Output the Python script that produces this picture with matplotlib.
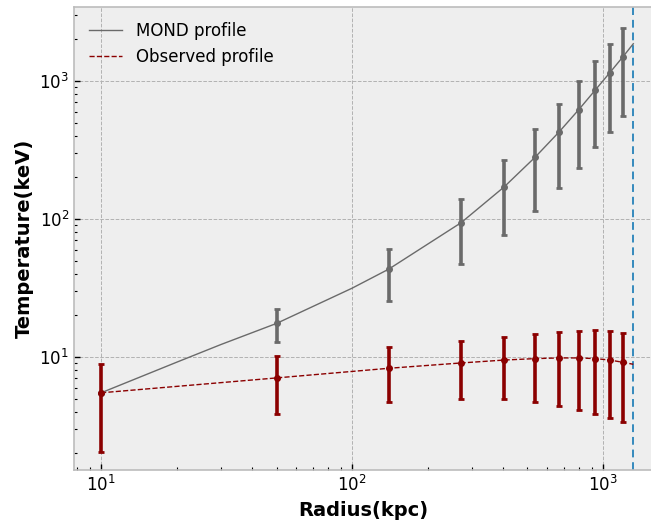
import matplotlib
matplotlib.use("Agg")
import matplotlib.pyplot as plt
from matplotlib.ticker import LogLocator, NullFormatter

plt.style.use("bmh")

# Data
radius = [10, 50, 140, 272, 404, 536, 668, 800, 932, 1064, 1196]
mond_T = [5.5, 17.5, 43.3, 94, 171, 280, 427, 619, 861, 1148, 1485]
mond_err = [0, 4.7, 17.7, 46.5, 95, 165, 258, 385, 530, 720, 930]
obs_T = [5.5, 7.05, 8.28, 9.05, 9.5, 9.73, 9.84, 9.84, 9.73, 9.5, 9.16]
obs_err = [3.45, 3.17, 3.55, 4.1, 4.5, 5.0, 5.4, 5.7, 5.9, 5.9, 5.8]

mond_curve_r = [10, 20, 30, 50, 100, 140, 272, 404, 536, 668, 800, 932, 1064, 1196, 1320]
mond_curve_T = [5.5, 9.16, 12.3, 17.5, 31.5, 43.3, 94, 171, 280, 427, 619, 861, 1148, 1485, 1860]
obs_curve_r = [10, 50, 140, 272, 404, 536, 668, 800, 932, 1064, 1196, 1320]
obs_curve_T = [5.5, 7.05, 8.28, 9.05, 9.5, 9.73, 9.84, 9.84, 9.73, 9.5, 9.16, 8.85]
r_limit = 1320

grey = "#6a6a6a"
red = "#8b0000"

fig = plt.figure(figsize=(6.51, 5.27), dpi=100)
fig.patch.set_facecolor("white")
ax = fig.add_axes([74/651, 57/527, 578/651, 463/527])
ax.set_facecolor("#eeeeee")

ax.plot(mond_curve_r, mond_curve_T, color=grey, lw=1.0, label="MOND profile", zorder=3)
ax.plot(obs_curve_r, obs_curve_T, color=red, lw=1.0, ls="--", label="Observed profile", zorder=3)

ax.errorbar(radius, mond_T, yerr=mond_err, fmt="o", color=grey, ms=4,
            elinewidth=2.6, capsize=2.5, capthick=2, zorder=4)
ax.errorbar(radius, obs_T, yerr=obs_err, fmt="o", color=red, ms=4,
            elinewidth=2.6, capsize=2.5, capthick=2, zorder=5)

ax.axvline(r_limit, color="#348ABD", ls=(0, (4, 2.5)), lw=1.4, zorder=2)

ax.set_xscale("log")
ax.set_yscale("log")
ax.set_xlim(7.8, 1567)
ax.set_ylim(1.517, 3435)

ax.xaxis.set_minor_locator(LogLocator(base=10, subs=range(2, 10), numticks=20))
ax.yaxis.set_minor_locator(LogLocator(base=10, subs=range(2, 10), numticks=20))
ax.xaxis.set_minor_formatter(NullFormatter())
ax.yaxis.set_minor_formatter(NullFormatter())

ax.grid(True, which="major", color="#b2b2b2", ls="--", lw=0.7)
ax.grid(False, which="minor")
ax.tick_params(which="both", direction="in", labelsize=12, colors="black",
               labelcolor="black")
ax.tick_params(which="major", length=4, width=1.0)
ax.tick_params(which="minor", length=2.2, width=0.8, color="black")
for s in ax.spines.values():
    s.set_color("#bcbcbc")
    s.set_linewidth(1.2)

ax.set_xlabel("Radius(kpc)", fontsize=14, fontweight="bold", color="black")
ax.set_ylabel("Temperature(keV)", fontsize=14, fontweight="bold", color="black")

ax.legend(loc="upper left", frameon=False, fontsize=12)

fig.savefig("out.png", dpi=100)
